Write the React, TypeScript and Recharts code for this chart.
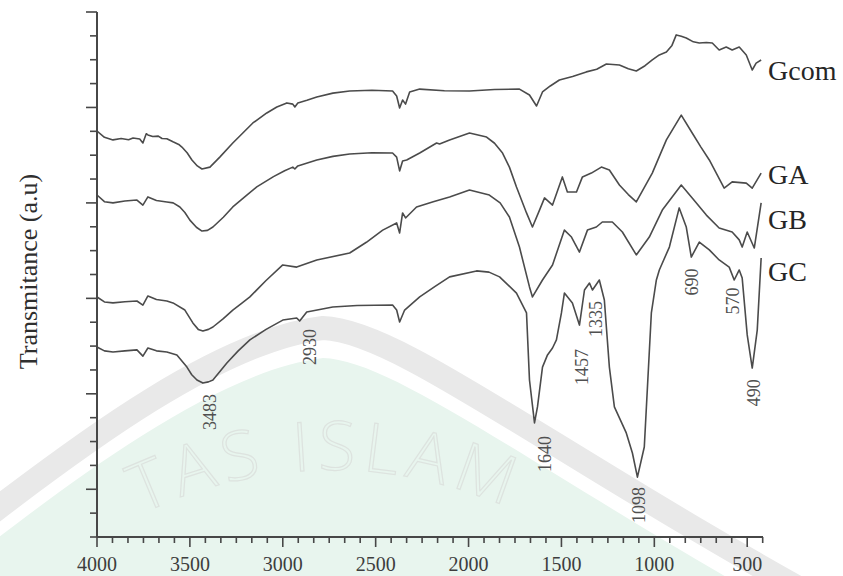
import React from 'react';
import { ComposedChart, Line, XAxis, YAxis, ReferenceDot } from 'recharts';

// ---- data (wavenumber cm-1, transmittance a.u.) ----
const gcomWn = [4000, 3960, 3914, 3870, 3830, 3806, 3770, 3753, 3735, 3726, 3700, 3670, 3650, 3624, 3591, 3560, 3543, 3515, 3489, 3460, 3435, 3392, 3339, 3269, 3215, 3161, 3086, 3032, 2978, 2946, 2935, 2919, 2870, 2817, 2730, 2640, 2520, 2409, 2387, 2371, 2355, 2339, 2317, 2263, 2130, 1995, 1860, 1726, 1672, 1634, 1602, 1560, 1511, 1440, 1366, 1310, 1258, 1188, 1140, 1097, 1050, 1011, 973, 935, 905, 882, 855, 828, 790, 758, 720, 688, 651, 613, 581, 543, 505, 473, 452, 425];
const gcomT = [17.01, 16.75, 16.64, 16.7, 16.65, 16.72, 16.68, 16.51, 16.9, 16.85, 16.78, 16.8, 16.7, 16.69, 16.56, 16.45, 16.34, 16.1, 15.8, 15.55, 15.42, 15.5, 15.92, 16.51, 16.93, 17.35, 17.77, 18.02, 18.19, 18.14, 18.02, 18.19, 18.3, 18.44, 18.6, 18.69, 18.72, 18.69, 18.48, 17.98, 18.31, 18.14, 18.65, 18.77, 18.7, 18.69, 18.75, 18.77, 18.52, 18.06, 18.65, 18.9, 19.15, 19.3, 19.49, 19.6, 19.82, 19.78, 19.62, 19.53, 19.75, 19.99, 20.2, 20.32, 20.6, 21.04, 20.98, 20.91, 20.75, 20.7, 20.72, 20.7, 20.41, 20.53, 20.41, 20.53, 20.2, 19.57, 19.86, 19.99];

const gaWn = [4000, 3960, 3914, 3850, 3785, 3753, 3726, 3680, 3624, 3590, 3554, 3527, 3500, 3465, 3435, 3405, 3376, 3320, 3269, 3200, 3140, 3050, 2990, 2946, 2935, 2919, 2817, 2730, 2640, 2520, 2409, 2387, 2371, 2355, 2333, 2263, 2172, 2156, 2102, 1995, 1903, 1860, 1817, 1780, 1742, 1688, 1656, 1618, 1591, 1548, 1495, 1468, 1419, 1387, 1339, 1285, 1242, 1188, 1140, 1097, 1011, 970, 935, 855, 796, 750, 704, 624, 581, 505, 473, 425];
const gaT = [14.33, 14.05, 14.0, 14.08, 14.12, 13.91, 14.25, 14.1, 14.04, 14.0, 13.83, 13.6, 13.28, 12.98, 12.82, 12.85, 12.99, 13.4, 13.83, 14.28, 14.67, 15.1, 15.35, 15.5, 15.42, 15.55, 15.8, 15.95, 16.05, 16.1, 16.09, 15.92, 15.34, 15.76, 15.8, 16.09, 16.51, 16.47, 16.64, 16.93, 16.76, 16.5, 16.09, 15.5, 14.67, 13.58, 12.99, 13.7, 14.21, 13.91, 15.09, 14.46, 14.46, 15.09, 15.25, 15.5, 15.38, 14.75, 14.35, 14.04, 15.25, 16.0, 16.64, 17.68, 16.93, 16.35, 15.8, 14.62, 14.88, 14.83, 14.62, 15.25];

const gbWn = [4000, 3960, 3914, 3850, 3785, 3753, 3726, 3680, 3624, 3591, 3527, 3484, 3455, 3430, 3400, 3376, 3320, 3269, 3220, 3177, 3090, 3000, 2925, 2817, 2640, 2550, 2462, 2387, 2371, 2355, 2339, 2280, 2190, 2102, 1995, 1888, 1830, 1780, 1726, 1672, 1656, 1602, 1548, 1484, 1446, 1403, 1360, 1312, 1280, 1226, 1172, 1097, 1027, 957, 855, 796, 720, 651, 581, 543, 527, 500, 462, 425];
const gbT = [10.06, 9.85, 9.81, 9.86, 9.89, 9.72, 10.1, 9.95, 9.89, 9.81, 9.51, 8.97, 8.7, 8.63, 8.7, 8.8, 9.15, 9.51, 9.8, 10.06, 10.75, 11.4, 11.31, 11.61, 11.9, 12.35, 12.86, 13.16, 12.74, 13.58, 13.37, 13.83, 14.05, 14.25, 14.54, 14.33, 14.0, 13.41, 12.15, 10.48, 10.06, 10.77, 11.4, 12.86, 12.57, 11.94, 12.86, 12.99, 13.2, 13.2, 12.78, 11.82, 12.57, 13.7, 14.75, 14.21, 13.49, 12.95, 12.78, 12.45, 12.15, 12.78, 12.11, 14.0];

const gcWn = [4000, 3960, 3914, 3850, 3785, 3753, 3726, 3680, 3624, 3570, 3516, 3490, 3462, 3430, 3400, 3376, 3301, 3240, 3177, 3090, 3000, 2925, 2909, 2871, 2731, 2600, 2409, 2387, 2371, 2344, 2263, 2180, 2102, 1957, 1890, 1833, 1742, 1688, 1672, 1645, 1629, 1602, 1575, 1548, 1527, 1500, 1484, 1441, 1403, 1376, 1349, 1333, 1296, 1269, 1242, 1215, 1151, 1118, 1091, 1054, 1016, 989, 973, 919, 866, 828, 801, 758, 704, 651, 597, 570, 543, 527, 500, 473, 446, 425];
const gcT = [7.96, 7.8, 7.75, 7.8, 7.84, 7.58, 7.92, 7.8, 7.75, 7.63, 7.12, 6.8, 6.58, 6.45, 6.5, 6.58, 7.29, 7.8, 8.26, 8.7, 9.09, 9.18, 9.05, 9.43, 9.64, 9.7, 9.72, 9.51, 9.01, 9.51, 10.06, 10.5, 10.9, 11.15, 11.1, 10.9, 10.22, 9.39, 6.58, 4.78, 5.45, 7.12, 7.63, 7.92, 8.26, 9.39, 10.22, 9.81, 8.88, 10.35, 10.64, 10.35, 10.77, 9.93, 7.12, 5.45, 4.36, 3.52, 2.51, 3.77, 9.39, 10.77, 11.19, 12.15, 13.79, 12.99, 11.73, 12.36, 12.03, 11.61, 11.31, 10.77, 11.19, 10.85, 8.47, 7.08, 8.67, 11.69];

const seriesNames = ['Gcom', 'GA', 'GB', 'GC'];
const seriesLabelT = [19.53, 15.21, 13.29, 11.11];

const peakText = ['3483', '2930', '1640', '1457', '1335', '1098', '690', '570', '490'];
const peakWn = [3393, 2855, 1591, 1387, 1312, 1081, 796, 575, 462];
const peakT = [5.24, 7.96, 3.48, 7.12, 9.14, 1.34, 10.69, 9.89, 6.04];

const xMajorTicks = [4000, 3500, 3000, 2500, 2000, 1500, 1000, 500];
const xMinorPerMajor = 6;
const yTickValues = [0, 1, 2, 3, 4, 5, 6, 7, 8, 9, 10, 11, 12, 13, 14, 15, 16, 17, 18, 19, 20, 21, 22];
const yMajorValues = [2, 6, 10, 14, 18, 22];

// ---- build tables ----
const toRows = (wn: number[], t: number[]) => wn.map((w, i) => ({ wn: w, t: t[i] }));
const seriesData = [toRows(gcomWn, gcomT), toRows(gaWn, gaT), toRows(gbWn, gbT), toRows(gcWn, gcT)];
const xStep = (xMajorTicks[0] - xMajorTicks[1]) / xMinorPerMajor;
const xAllTicks: number[] = [];
for (let v = xMajorTicks[0]; v > 410; v -= xStep) xAllTicks.push(Math.round(v * 100) / 100);

const FONT = '"Liberation Serif", "Times New Roman", serif';
const LINE = '#4b4b4b';
const AXIS = '#474747';

const XTick = (props: any) => {
  const { x, y, payload } = props;
  const v = payload.value;
  const major = xMajorTicks.some((m) => Math.abs(m - v) < 0.5);
  return (
    <g>
      <line x1={x} x2={x} y1={y} y2={y + (major ? 10 : 6)} stroke={AXIS} strokeWidth={1.6} />
      {major && (
        <text x={x} y={y + 34} textAnchor="middle" fontSize={20} fontFamily={FONT} fill="#3d3d3d">
          {Math.round(v)}
        </text>
      )}
    </g>
  );
};

const YTick = (props: any) => {
  const { x, y, payload } = props;
  const major = yMajorValues.includes(payload.value);
  return <line x1={x - (major ? 11 : 7)} x2={x} y1={y} y2={y} stroke={AXIS} strokeWidth={1.6} />;
};

const YLabel = (p: any) => {
  const vb = p.viewBox;
  const cx = vb.x + vb.width - 69;
  const cy = vb.y + vb.height / 2 - 3;
  return (
    <text x={cx} y={cy} transform={`rotate(-90 ${cx} ${cy})`} textAnchor="middle" dominantBaseline="central"
      fontSize={26} fontFamily={FONT} fill="#2f2f2f">
      Transmitance (a.u)
    </text>
  );
};

const makePeakLabel = (txt: string) => (p: any) => {
  const vb = p.viewBox;
  const cx = vb.x + vb.width / 2;
  const cy = vb.y + vb.height / 2;
  return (
    <text x={cx} y={cy} transform={`rotate(-90 ${cx} ${cy})`} textAnchor="middle" dominantBaseline="central"
      fontSize={18} fontFamily={FONT} fill="#505050">
      {txt}
    </text>
  );
};

const makeSeriesLabel = (txt: string) => (p: any) => {
  const vb = p.viewBox;
  const cx = vb.x + vb.width / 2;
  const cy = vb.y + vb.height / 2;
  return (
    <text x={cx + 5} y={cy} textAnchor="start" dominantBaseline="central" fontSize={28} fontFamily={FONT} fill="#262626">
      {txt}
    </text>
  );
};

const Watermark = () => (
  <svg width={843} height={576} style={{ position: 'absolute', left: 0, top: 0 }}>
    <path d="M -10 544 C 80 475, 220 370, 323 358 C 400 360, 560 490, 860 652 L 860 700 L -10 700 Z" fill="#e8f5ee" />
    <path d="M -10 514 C 80 445, 220 340, 323 328 C 400 330, 560 460, 860 622" fill="none" stroke="#e9e9e9" strokeWidth={24} />
    <defs>
      <path id="wmArc" d="M 125 522 Q 330 418 540 522" />
    </defs>
    <text fontSize={68} letterSpacing={7} fontFamily='"Open Sans", sans-serif' fontWeight={300} fill="none" stroke="#dde3df" strokeWidth={1.2}>
      <textPath href="#wmArc" startOffset="18">TAS ISLAM</textPath>
    </text>
  </svg>
);

export default function App() {
  return (
    <div style={{ position: 'absolute', left: 0, top: 0, width: 843, height: 576, background: '#ffffff', overflow: 'hidden' }}>
      <Watermark />
      <div style={{ position: 'absolute', left: 0, top: 0 }}>
        <ComposedChart width={843} height={576} margin={{ top: 12, right: 80, bottom: 0, left: 47 }}>
          <XAxis
            type="number"
            dataKey="wn"
            domain={[415, 4000]}
            reversed
            ticks={xAllTicks}
            interval={0}
            allowDataOverflow
            height={39}
            tickSize={0}
            tickMargin={0}
            tickLine={false}
            axisLine={{ stroke: AXIS, strokeWidth: 2 }}
            tick={<XTick />}
          />
          <YAxis
            type="number"
            domain={[0, 22]}
            ticks={yTickValues}
            interval={0}
            allowDataOverflow
            width={50}
            tickSize={0}
            tickMargin={0}
            tickLine={false}
            axisLine={{ stroke: AXIS, strokeWidth: 2 }}
            tick={<YTick />}
            label={{ content: YLabel }}
          />
          {seriesData.map((d, i) => (
            <Line
              key={seriesNames[i]}
              data={d}
              dataKey="t"
              type="linear"
              stroke={LINE}
              strokeWidth={1.6}
              strokeLinejoin="round"
              dot={false}
              activeDot={false}
              isAnimationActive={false}
            />
          ))}
          {peakText.map((txt, i) => (
            <ReferenceDot key={'p' + txt} x={peakWn[i]} y={peakT[i]} r={0} fill="none" stroke="none" label={{ content: makePeakLabel(txt) }} />
          ))}
          {seriesNames.map((name, i) => (
            <ReferenceDot key={'s' + name} x={415} y={seriesLabelT[i]} r={0} fill="none" stroke="none" ifOverflow="visible" label={{ content: makeSeriesLabel(name) }} />
          ))}
        </ComposedChart>
      </div>
    </div>
  );
}
